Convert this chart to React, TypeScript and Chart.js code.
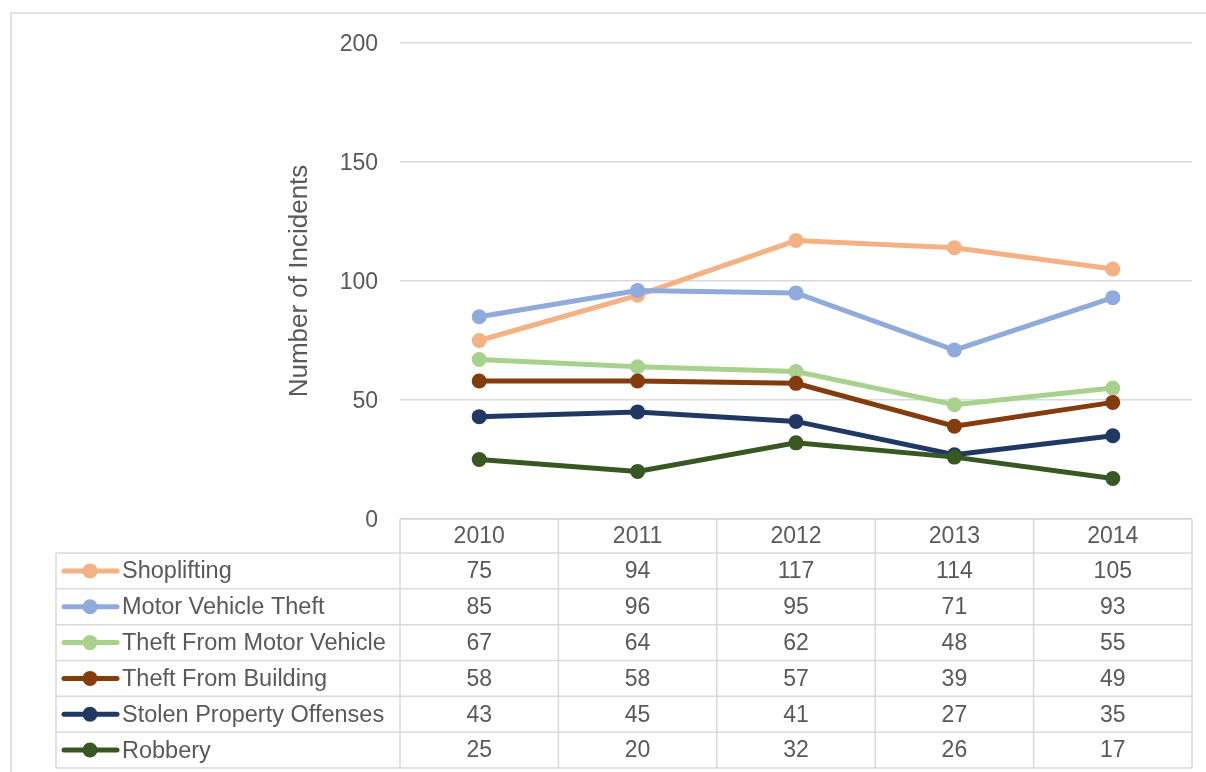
import React, { useEffect, useRef } from "react";
import { Chart, registerables } from "chart.js";

Chart.register(...registerables);

const years = ["2010", "2011", "2012", "2013", "2014"];
const seriesNames = [
  "Shoplifting",
  "Motor Vehicle Theft",
  "Theft From Motor Vehicle",
  "Theft From Building",
  "Stolen Property Offenses",
  "Robbery",
];
const shoplifting = [75, 94, 117, 114, 105];
const motorVehicleTheft = [85, 96, 95, 71, 93];
const theftFromMotorVehicle = [67, 64, 62, 48, 55];
const theftFromBuilding = [58, 58, 57, 39, 49];
const stolenProperty = [43, 45, 41, 27, 35];
const robbery = [25, 20, 32, 26, 17];
const seriesValues = [
  shoplifting,
  motorVehicleTheft,
  theftFromMotorVehicle,
  theftFromBuilding,
  stolenProperty,
  robbery,
];
const seriesColors = ["#F4B183", "#8FAADC", "#A9D18E", "#843C0C", "#203864", "#385723"];
const yTicks = [0, 50, 100, 150, 200];

const FONT = "'Liberation Sans', Arial, sans-serif";
const TEXT = "#595959";
const GRID = "#D9D9D9";

const tablePlugin = {
  id: "dataTable",
  afterDraw(chart: any) {
    const ctx = chart.ctx;
    const x = chart.scales.x;
    const area = chart.chartArea;
    const n = years.length;
    const colW = (area.right - area.left) / n;
    const headerTop = area.bottom;
    const headerH = 34;
    const rowH = 35.83;
    const legendLeft = 56;
    const rowsTop = headerTop + headerH;
    const tableBottom = rowsTop + rowH * seriesNames.length;

    ctx.save();
    // outer frame
    ctx.strokeStyle = GRID;
    ctx.lineWidth = 1.5;
    ctx.beginPath();
    ctx.moveTo(11, chart.height + 2);
    ctx.lineTo(11, 13);
    ctx.lineTo(chart.width + 2, 13);
    ctx.stroke();

    // table grid
    ctx.lineWidth = 1.5;
    ctx.beginPath();
    ctx.moveTo(area.left, headerTop);
    ctx.lineTo(area.right, headerTop);
    for (let r = 0; r <= seriesNames.length; r++) {
      const y = rowsTop + r * rowH;
      ctx.moveTo(legendLeft, y);
      ctx.lineTo(area.right, y);
    }
    ctx.moveTo(legendLeft, rowsTop);
    ctx.lineTo(legendLeft, tableBottom);
    for (let c = 0; c <= n; c++) {
      const xx = area.left + c * colW;
      ctx.moveTo(xx, headerTop);
      ctx.lineTo(xx, tableBottom);
    }
    ctx.stroke();

    // header
    ctx.fillStyle = TEXT;
    ctx.font = `23px ${FONT}`;
    ctx.textAlign = "center";
    ctx.textBaseline = "middle";
    years.forEach((yr, i) => {
      ctx.fillText(yr, x.getPixelForValue(i), headerTop + headerH / 2 + 1);
    });

    // rows
    seriesNames.forEach((name, r) => {
      const cy = rowsTop + r * rowH + rowH / 2 + 1;
      const color = seriesColors[r];
      // legend marker
      ctx.strokeStyle = color;
      ctx.lineWidth = 5;
      ctx.lineCap = "round";
      ctx.beginPath();
      ctx.moveTo(64, cy - 1);
      ctx.lineTo(117, cy - 1);
      ctx.stroke();
      ctx.fillStyle = color;
      ctx.beginPath();
      ctx.arc(90, cy - 1, 7.5, 0, Math.PI * 2);
      ctx.fill();
      // label
      ctx.fillStyle = TEXT;
      ctx.font = `23.5px ${FONT}`;
      ctx.textAlign = "left";
      ctx.fillText(name, 122, cy);
      // values
      ctx.font = `23px ${FONT}`;
      ctx.textAlign = "center";
      seriesValues[r].forEach((v, i) => {
        ctx.fillText(String(v), x.getPixelForValue(i), cy);
      });
    });
    ctx.restore();
  },
};

export default function App() {
  const ref = useRef<HTMLCanvasElement | null>(null);
  useEffect(() => {
    if (!ref.current) return;
    const chart = new Chart(ref.current, {
      type: "line",
      data: {
        labels: years,
        datasets: seriesNames.map((name, i) => ({
          label: name,
          data: seriesValues[i],
          borderColor: seriesColors[i],
          backgroundColor: seriesColors[i],
          pointBackgroundColor: seriesColors[i],
          pointBorderColor: seriesColors[i],
          borderWidth: 5,
          pointRadius: 7.5,
          pointBorderWidth: 0,
          tension: 0,
          order: seriesNames.length - i,
        })),
      },
      options: {
        animation: false,
        responsive: false,
        maintainAspectRatio: false,
        layout: { padding: { left: 284, right: 14, top: 43, bottom: 253 } },
        plugins: { legend: { display: false }, tooltip: { enabled: false } },
        scales: {
          x: {
            type: "category",
            offset: true,
            display: false,
            grid: { display: false },
          },
          y: {
            min: 0,
            max: 200,
            afterBuildTicks: (s: any) => {
              s.ticks = yTicks.map((v) => ({ value: v }));
            },
            afterFit: (s: any) => {
              s.width = 116;
            },
            border: { display: false },
            grid: { color: GRID, lineWidth: 1.5, drawTicks: false },
            ticks: {
              color: TEXT,
              font: { family: FONT, size: 23 },
              padding: 22,
              labelOffset: 2,
            },
            title: {
              display: true,
              text: "Number of Incidents",
              color: TEXT,
              font: { family: FONT, size: 26 },
              padding: 0,
            },
          },
        },
      },
      plugins: [tablePlugin],
    });
    return () => chart.destroy();
  }, []);
  return (
    <div style={{ position: "fixed", left: 0, top: 0, width: 1206, height: 772, background: "#fff" }}>
      <canvas ref={ref} width={1206} height={772} style={{ width: 1206, height: 772, display: "block" }} />
    </div>
  );
}
